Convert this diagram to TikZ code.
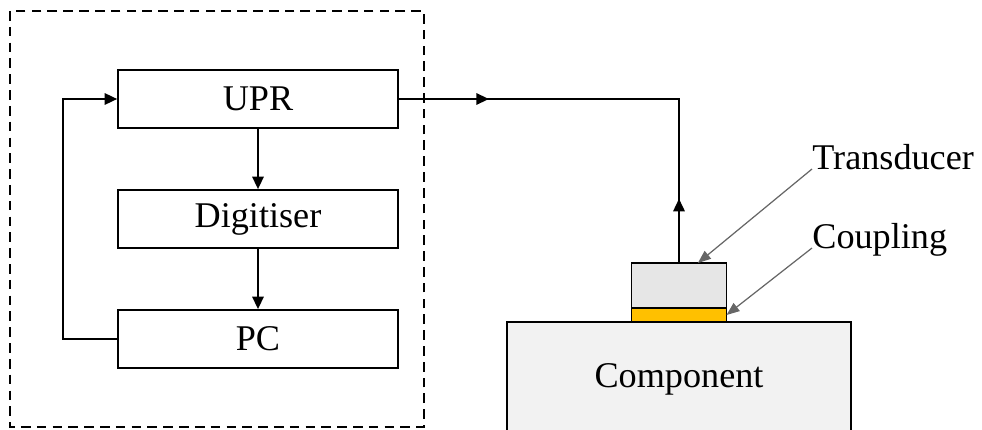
\documentclass[tikz,border=0pt]{standalone}
\usepackage{fontspec}
\setmainfont{Liberation Serif}
\usetikzlibrary{positioning}
\usetikzlibrary{arrows.meta}
\usetikzlibrary{decorations.markings}

\definecolor{compfill}{HTML}{F2F2F2}
\definecolor{xdcrfill}{HTML}{E6E6E6}
\definecolor{couplefill}{HTML}{FFC000}

\begin{document}
\begin{tikzpicture}
    [
    x=0.02cm, y=-0.02cm,
    node distance=2.4cm and 2.4cm,
    on grid,
    font=\fontsize{20.6}{24}\selectfont,
    >={Triangle[length=0.25cm, width=0.23cm]},
    unit/.style={draw, line width=1pt, minimum width=5.6cm, minimum height=1.16cm, inner sep=0pt},
    body/.style={draw, line width=1pt, fill=compfill, minimum width=6.88cm, minimum height=2.28cm, inner sep=0pt, outer sep=0pt},
    layer/.style={draw, line width=0.8pt, minimum width=1.9cm, inner sep=0pt, outer sep=0pt, anchor=south},
    tag/.style={inner sep=0pt, anchor=base west},
    link/.style={line width=0.9pt},
    pointer/.style={draw=black!60, line width=0.7pt, -{Triangle[length=0.26cm, width=0.2cm]}},
    housing/.style={line width=1pt, dash pattern=on 5.5pt off 3.5pt},
    ]

    \useasboundingbox (0,0) rectangle (982,429);

    % instrument rack
    \draw[housing] (10,11) rectangle (424,427);
    \node[unit] (upr) at (258,99) {UPR};
    \node[unit, below = of upr] (dig) {Digitiser};
    \node[unit, below = of dig] (pc) {PC};
    \coordinate (loop) at (63,0);

    \draw[link, ->] (upr) -- (dig);
    \draw[link, ->] (dig) -- (pc);
    \draw[link, ->] (pc.west) -- (pc.west -| loop) |- (upr.west);

    % specimen with probe
    \node[body] (comp) at (679,379) {Component};
    \node[layer, fill=couplefill, minimum height=0.28cm] (cpl) at (comp.north) {};
    \node[layer, fill=xdcrfill, minimum height=0.9cm] (xdcr) at (cpl.north) {};

    \draw[link, postaction={decorate}, decoration={markings,
        mark=at position 1.8cm with {\arrow{>}},
        mark=at position 7.6cm with {\arrowreversed{>}}}]
        (upr.east) -| (xdcr.north);

    % labels
    \node[tag] (xdcrlbl) at (812,169) {Transducer};
    \node[tag] (cpllbl) at (812,248) {Coupling};
    \draw[pointer] (xdcrlbl.base west) -- (xdcr.50);
    \draw[pointer] (cpllbl.base west) -- (cpl.east);
\end{tikzpicture}
\end{document}
